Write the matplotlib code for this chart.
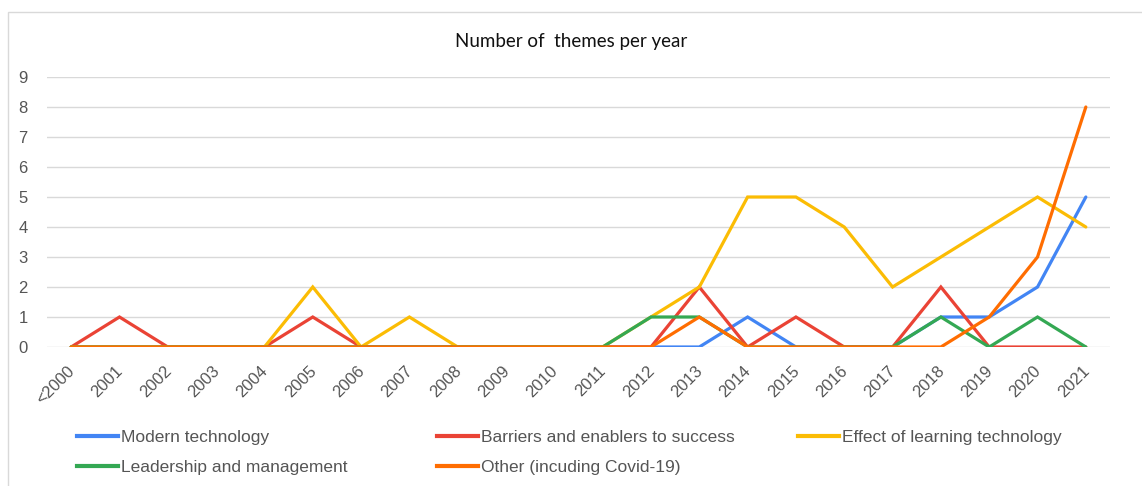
import matplotlib
matplotlib.use("Agg")
import matplotlib.pyplot as plt
from matplotlib.lines import Line2D
from matplotlib.patches import Rectangle

plt.rcParams["font.family"] = ["Liberation Sans", "DejaVu Sans"]

years = ["<2000"] + [str(y) for y in range(2001, 2022)]

# values per category, <2000 .. 2021
modern     = [0, 0, 0, 0, 0, 0, 0, 0, 0, 0, 0, 0, 0, 0, 1, 0, 0, 0, 1, 1, 2, 5]
barriers   = [0, 1, 0, 0, 0, 1, 0, 0, 0, 0, 0, 0, 0, 2, 0, 1, 0, 0, 2, 0, 0, 0]
effect     = [0, 0, 0, 0, 0, 2, 0, 1, 0, 0, 0, 0, 1, 2, 5, 5, 4, 2, 3, 4, 5, 4]
leadership = [0, 0, 0, 0, 0, 0, 0, 0, 0, 0, 0, 0, 1, 1, 0, 0, 0, 0, 1, 0, 1, 0]
other      = [0, 0, 0, 0, 0, 0, 0, 0, 0, 0, 0, 0, 0, 1, 0, 0, 0, 0, 0, 1, 3, 8]

SERIES = [
    ("Modern technology", modern, "#4285F4"),
    ("Barriers and enablers to success", barriers, "#EA4335"),
    ("Effect of learning technology", effect, "#FBBC04"),
    ("Leadership and management", leadership, "#34A853"),
    ("Other (incuding Covid-19)", other, "#FF6D01"),
]

W, H = 1142, 486
fig = plt.figure(figsize=(W / 100, H / 100), dpi=100)
ax = fig.add_axes([47 / W, 1 - 347 / H, (1110 - 47) / W, (347 - 77) / H])

x = list(range(len(years)))
for label, vals, col in SERIES:
    ax.plot(x, vals, color=col, lw=2.3, label=label, solid_capstyle="round",
            solid_joinstyle="miter")

ax.set_xlim(-0.5, len(years) - 0.5)
ax.set_ylim(0, 9)
ax.set_yticks(range(10))
ax.set_xticks(x)
ax.set_xticklabels(years, rotation=45, ha="right", va="center_baseline",
                   rotation_mode="anchor", fontsize=12, color="#555555")
ax.tick_params(axis="y", labelsize=12, labelcolor="#555555", pad=14)
ax.tick_params(axis="x", pad=15)
ax.tick_params(length=0)
for s in ax.spines.values():
    s.set_visible(False)
ax.grid(axis="y", color="#d9d9d9", lw=1)
ax.set_axisbelow(True)

fig.text(0.5, 1 - 42 / H, "Number of  themes per year", ha="center",
         va="center", fontsize=13.5, color="#111111",
         family=["Lato", "DejaVu Sans"])

# legend: three columns, row-major order like the original
cols = [(76, [0, 3]), (436, [1, 4]), (797, [2])]
for xpix, idx in cols:
    handles = [Line2D([], [], color=SERIES[i][2], lw=3) for i in idx]
    labels = [SERIES[i][0] for i in idx]
    fig.legend(handles, labels, loc="upper left",
               bbox_to_anchor=(xpix / W - 0.0115, 1 - 416 / H),
               frameon=False, fontsize=12.5, labelcolor="#555555",
               handlelength=2.4, handletextpad=0.15, labelspacing=0.85,
               borderpad=0.3)

# chart border
fig.patches.append(Rectangle((8 / W, -0.1), 1.2, 1.1 - 12 / H,
                             transform=fig.transFigure, fill=False,
                             ec="#d9d9d9", lw=1))

fig.savefig("out.png", dpi=100)
